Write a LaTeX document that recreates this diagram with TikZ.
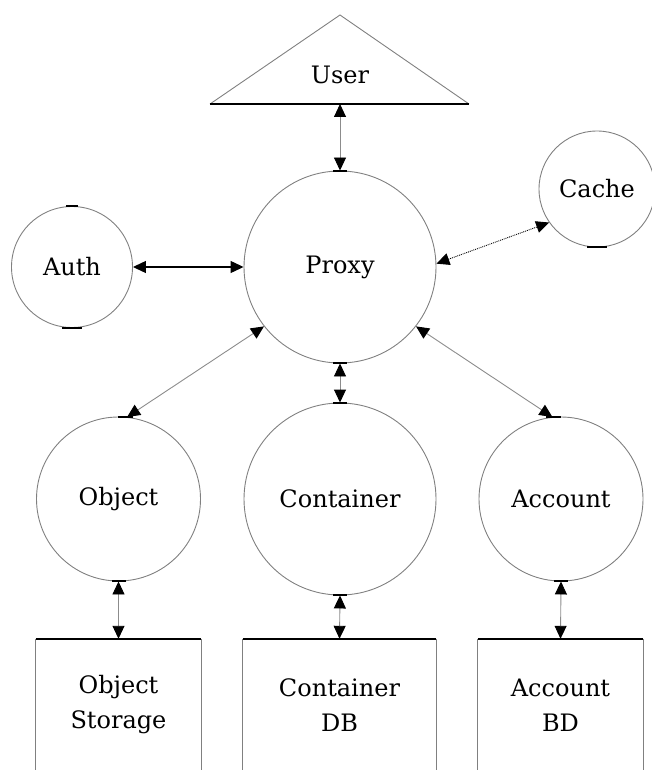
\documentclass[tikz,border=0pt]{standalone}
\usepackage{fontspec}
\setmainfont{DejaVu Serif}
\usetikzlibrary{arrows.meta}
\tikzset{
  Ahd/.tip={Triangle[length=13pt,width=12pt,color=black,fill=black]},
}
\begin{document}
\begin{tikzpicture}[x=1pt,y=-1pt,
  lbl/.style={font=\fontsize{24}{35}\selectfont, align=center, inner sep=0pt},
  circ/.style={circle, draw=black!50, line width=0.9pt, inner sep=0pt, minimum size=#1},
  boxn/.style={rectangle, draw=none, inner sep=0pt, minimum height=132pt, minimum width=#1},
  boxside/.style={draw=black!50, line width=1pt},
  boxtop/.style={draw=black, line width=1.4pt},
  arr/.style={draw=black!45, line width=0.9pt, arrows={Ahd-Ahd}},
  arrk/.style={draw=black, line width=1.2pt, arrows={Ahd-Ahd}},
  arrd/.style={draw=black, line width=0.9pt, densely dotted, arrows={Ahd-Ahd}},
  barl/.style={draw=black, line width=2pt},
]
\useasboundingbox (0,0) rectangle (651,770);

% User triangle
\draw[draw=black!50, line width=0.9pt] (210,104) -- (340,15) -- (469,104);
\draw[boxtop] (210,104) -- (469,104);
\node[lbl] (user) at (340,75) {User};
\coordinate (userb) at (340,104);

% circles
\node[circ=192pt, lbl] (proxy) at (340,267) {Proxy};
\node[circ=121pt, lbl] (auth) at (72,267) {Auth};
\node[circ=116pt, lbl] (cache) at (597,189) {Cache};
\node[circ=164pt, lbl] (object) at (118.5,499) {Object};
\node[circ=192pt, lbl] (container) at (340,499) {Container};
\node[circ=164pt, lbl] (account) at (561,499) {Account};

% boxes
\node[boxn=165pt, lbl] (objst) at (118.5,705) {Object\\Storage};
\node[boxn=193pt, lbl] (contdb) at (339.5,705) {Container\\DB};
\node[boxn=165pt, lbl] (accbd) at (560.5,705) {Account\\BD};
\foreach \b in {objst,contdb,accbd}{
  \draw[boxside] (\b.north west) -- ++(0,150);
  \draw[boxside] (\b.north east) -- ++(0,150);
  \draw[boxtop] (\b.north west) -- (\b.north east);
}

% connectors
\draw[arr] (userb) -- (proxy.north);
\draw[arrk] (auth.east) -- (proxy.west);
\draw[arrd] (proxy.2) -- (cache.215);
\draw[arr] (proxy.218) -- (object.84);
\draw[arr] (proxy.322) -- (account.96);
\draw[arr] (proxy.south) -- (container.north);
\draw[arr] (object.south) -- (objst.north);
\draw[arr] (container.south) -- (contdb.north);
\draw[arr] (account.south) -- (accbd.north);

% connection-point marks on circles
\draw[barl] ([xshift=-7pt]proxy.north) -- ([xshift=7pt]proxy.north);
\draw[barl] ([xshift=-7pt]proxy.south) -- ([xshift=7pt]proxy.south);
\draw[barl] ([xshift=-7pt]container.north) -- ([xshift=7pt]container.north);
\draw[barl] ([xshift=-7pt]container.south) -- ([xshift=7pt]container.south);
\draw[barl] ([xshift=-9pt]object.84) -- ([xshift=6pt]object.84);
\draw[barl] ([xshift=-7pt]object.south) -- ([xshift=7pt]object.south);
\draw[barl] ([xshift=-6pt]account.96) -- ([xshift=9pt]account.96);
\draw[barl] ([xshift=-7pt]account.south) -- ([xshift=7pt]account.south);
\draw[barl] ([xshift=-6pt]auth.north) -- ([xshift=6pt]auth.north);
\draw[barl] ([xshift=-10pt]auth.south) -- ([xshift=10pt]auth.south);
\draw[barl] ([xshift=-10pt]cache.south) -- ([xshift=10pt]cache.south);
\end{tikzpicture}
\end{document}
